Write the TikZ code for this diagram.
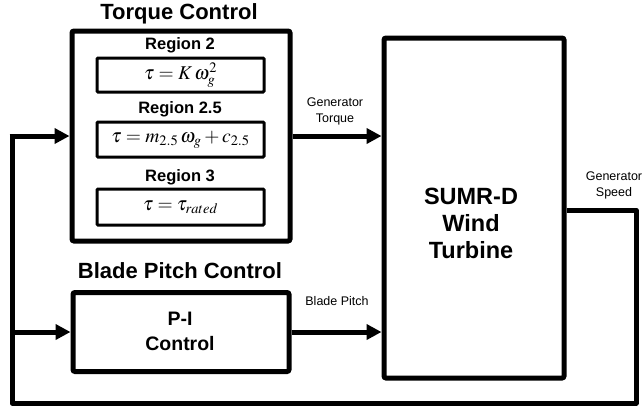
\documentclass[tikz,border=0pt]{standalone}
\usepackage{mathptmx}
\usepackage{fontspec}
\setmainfont{Liberation Sans}
\usetikzlibrary{arrows.meta,positioning}

\begin{document}
\begin{tikzpicture}[
  x=1pt,y=-1pt,
  bigbox/.style={rectangle,draw,line width=5pt,rounded corners=2pt,inner sep=0pt},
  eqbox/.style={rectangle,draw,line width=3pt,rounded corners=1pt,minimum width=167pt,inner sep=0pt,font=\fontsize{19.5}{22}\selectfont},
  title/.style={font=\fontsize{22}{26}\selectfont\bfseries},
  region/.style={font=\fontsize{16.5}{18}\selectfont\bfseries},
  sig/.style={font=\fontsize{12.5}{16}\selectfont,align=center},
  arr/.style={-{Triangle[length=15pt,width=15pt]},line width=5pt},
  fb/.style={line width=5pt}
]
  \useasboundingbox (0,0) rectangle (644,413);

  % Torque control block
  \node[bigbox,minimum width=218pt,minimum height=210pt] (tq) at (181,136) {};
  \node[title] (tqtitle) at (179,14) {Torque Control};
  \node[region] (reg2) at (180,45) {Region 2};
  \node[eqbox,minimum height=34pt] (eq2) at (180.5,75) {$\tau = K\,\omega_g^2$};
  \node[region] (reg25) at (180,109) {Region 2.5};
  \node[eqbox,minimum height=35pt] (eq25) at (180.5,139.5) {$\tau = m_{2.5}\,\omega_g + c_{2.5}$};
  \node[region] (reg3) at (180,177) {Region 3};
  \node[eqbox,minimum height=36pt] (eq3) at (180.5,207) {$\tau = \tau_{rated}$};

  % Blade pitch control block
  \node[title] (bptitle) at (180,271) {Blade Pitch Control};
  \node[bigbox,minimum width=216pt,minimum height=79pt] (pi) at (181,332) {};
  \node[align=center,font=\fontsize{19.5}{25}\selectfont\bfseries] (pitxt) at (180,331) {P-I\\Control};

  % Plant
  \node[bigbox,minimum width=180pt,minimum height=340pt] (turb) at (474,208) {};
  \node[align=center,font=\fontsize{23.5}{27}\selectfont\bfseries] (turbtxt) at (471,223) {SUMR-D\\Wind\\Turbine};

  % Signals
  \draw[arr] (tq.east) -- (turb.west |- tq.east);
  \draw[arr] (pi.east) -- (turb.west |- pi.east);
  \node[sig] (gentq) at (335,111) {Generator\\Torque};
  \node[sig] (bplab) at (337,301) {Blade Pitch};
  \node[sig] (genspd) at (614,185) {Generator\\Speed};

  % Feedback loop
  \coordinate (fbR) at (636,210);
  \coordinate (fbB) at (636,403);
  \coordinate (fbL) at (12,403);
  \draw[fb,line join=round] (turb.east |- fbR) -- (fbR) -- (fbB) -- (fbL) -- (fbL |- tq.west);
  \draw[arr] ([xshift=-2.5pt]fbL |- tq.west) -- (tq.west);
  \draw[arr] (fbL |- pi.west) -- (pi.west);
\end{tikzpicture}
\end{document}
